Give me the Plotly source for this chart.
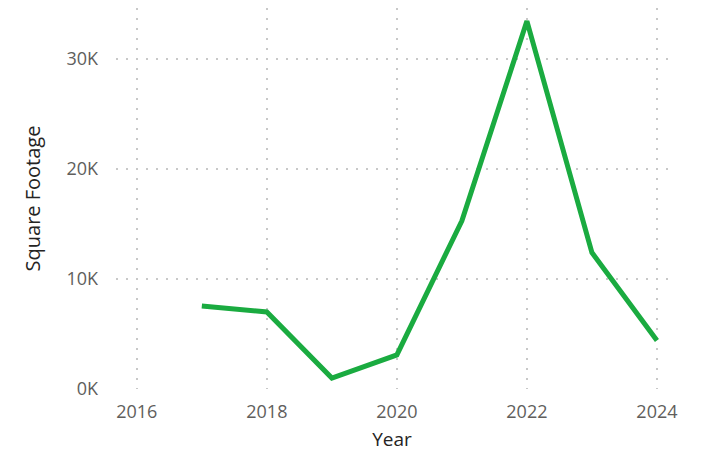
import plotly.graph_objects as go

years = [2017, 2018, 2019, 2020, 2021, 2022, 2023, 2024]
square_footage = [7550, 7000, 1000, 3100, 15300, 33450, 12400, 4400]

y_tickvals = [0, 10000, 20000, 30000]
y_ticktext = ["0K", "10K", "20K", "30K"]
x_tickvals = [2016, 2018, 2020, 2022, 2024]

fig = go.Figure(
    go.Scatter(
        x=years, y=square_footage, mode="lines",
        line=dict(color="#1AAB40", width=5),
        hoverinfo="x+y",
    )
)

grid = dict(showgrid=True, gridcolor="#C8C8C8", gridwidth=1.5, griddash="2px,8px",
            zeroline=False, showline=False, ticks="", automargin=False)

fig.update_layout(
    width=704, height=459,
    margin=dict(l=116, r=36, t=8, b=70),
    paper_bgcolor="white", plot_bgcolor="white",
    font=dict(family="Open Sans, Noto Sans, sans-serif", size=18, color="#605E5C"),
    showlegend=False,
    xaxis=dict(
        range=[2015.68, 2024.17], tickvals=x_tickvals,
        title=dict(text="Year", font=dict(color="#252423", size=19), standoff=10),
        ticklabelstandoff=10,
        **grid,
    ),
    yaxis=dict(
        range=[0, 34640], tickvals=y_tickvals, ticktext=y_ticktext,
        title=dict(text="Square Footage", font=dict(color="#252423", size=20), standoff=20),
        ticklabelstandoff=17,
        **grid,
    ),
)

fig.write_html("out.html", config={"displayModeBar": False},
               post_script="document.body.style.margin='0';")
